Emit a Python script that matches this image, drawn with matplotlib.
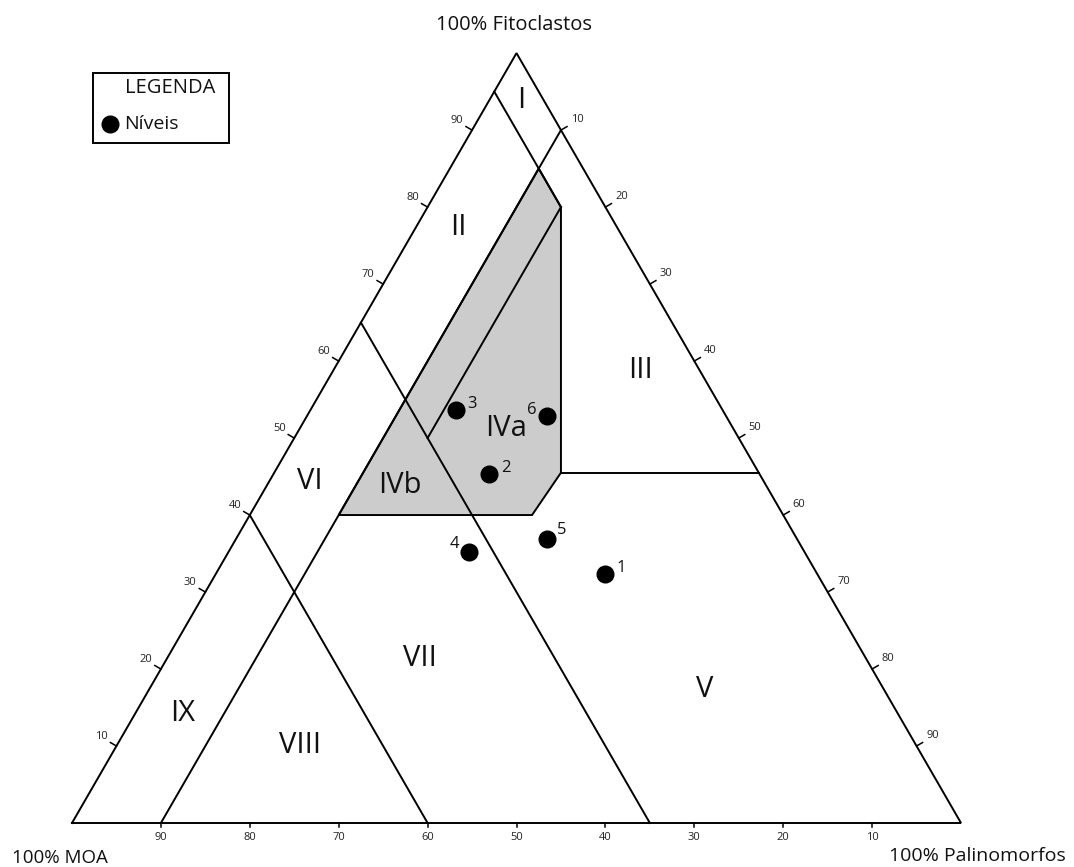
import matplotlib
matplotlib.use("Agg")
import matplotlib.pyplot as plt
from matplotlib.patches import Polygon, Rectangle

plt.rcParams['font.family'] = ['Open Sans', 'DejaVu Sans']

# ---------------- data (ternary %, Fitoclastos / Palinomorfos; MOA = 100 - F - P)
point_ids = ["1", "2", "3", "4", "5", "6"]
point_fito = [32.4, 45.3, 53.6, 35.2, 36.9, 52.9]
point_palino = [43.7, 24.3, 16.4, 27.1, 35.0, 27.0]

# field boundary segments: (fito, palino) start -> end
boundaries = [
    ((95, 0), (80, 15)),      # MOA = 5 line
    ((90, 10), (0, 10)),      # Palinomorfos = 10 line
    ((80, 15), (50, 15)),     # Palinomorfos = 15 (IVa/IVb)
    ((65, 0), (0, 65)),       # MOA = 35 line
    ((40, 0), (0, 40)),       # MOA = 60 line
    ((45.5, 32.25), (45.5, 54.5)),  # horizontal to right edge
]
# shaded field IV polygon (fito, palino)
field_iv = [(85, 10), (80, 15), (45.5, 32.25), (40, 31.75), (40, 10)]

field_names = ["I", "II", "III", "IVa", "IVb", "V", "VI", "VII", "VIII", "IX"]
field_fito = [93.9, 77.4, 58.8, 51.3, 43.8, 17.3, 44.4, 21.4, 10.1, 14.2]
field_palino = [3.55, 4.8, 34.6, 23.2, 15.0, 62.5, 4.5, 28.4, 20.6, 5.4]

tick_values = [10, 20, 30, 40, 50, 60, 70, 80, 90]

# ---------------- geometry
XL, XR, YB = 72.0, 961.0, 823.0
W = XR - XL
H = W * 0.8660254


def tern(f, p):
    x = XL + (p + f / 2.0) / 100.0 * W
    y = YB - f / 100.0 * H
    return x, y


fig = plt.figure(figsize=(10.74, 8.67), dpi=100)
ax = fig.add_axes([0, 0, 1, 1])
ax.set_xlim(0, 1074)
ax.set_ylim(867, 0)
ax.axis('off')

LW = 1.4

# shaded field
poly = Polygon([tern(f, p) for f, p in field_iv], closed=True,
               facecolor='#cccccc', edgecolor='black', lw=LW, zorder=1)
ax.add_patch(poly)

# outer triangle
tri = [tern(0, 0), tern(100, 0), tern(0, 100), tern(0, 0)]
ax.plot([t[0] for t in tri], [t[1] for t in tri], color='black', lw=LW,
        zorder=2, solid_joinstyle='miter')

for (f1, p1), (f2, p2) in boundaries:
    x1, y1 = tern(f1, p1)
    x2, y2 = tern(f2, p2)
    ax.plot([x1, x2], [y1, y2], color='black', lw=LW, zorder=2)

# ticks
tick_col = '#222222'
TL = 7
TFS = 8
for v in tick_values:
    # left edge (Fitoclastos)
    x, y = tern(v, 0)
    ax.plot([x, x - 0.866 * TL], [y, y - 0.5 * TL], color='black', lw=1.1)
    ax.text(x - 15, y - 10, str(v), fontsize=TFS, color=tick_col,
            ha='center', va='center')
    # right edge (Palinomorfos)
    x, y = tern(100 - v, v)
    ax.plot([x, x + 0.866 * TL], [y, y - 0.5 * TL], color='black', lw=1.1)
    ax.text(x + 16, y - 11, str(v), fontsize=TFS, color=tick_col,
            ha='center', va='center')
    # bottom edge (MOA)
    x, y = tern(0, 100 - v)
    ax.plot([x, x], [y, y + 4], color='black', lw=1.1)
    ax.text(x, y + 15, str(v), fontsize=TFS, color=tick_col,
            ha='center', va='center')

# field labels
for name, f, p in zip(field_names, field_fito, field_palino):
    x, y = tern(f, p)
    ax.text(x, y, name, fontsize=21, color='#111111', ha='center',
            va='center', zorder=4)

# points
px = [tern(f, p)[0] for f, p in zip(point_fito, point_palino)]
py = [tern(f, p)[1] for f, p in zip(point_fito, point_palino)]
ax.plot(px, py, 'o', color='black', markersize=12, zorder=5, linestyle='none')
label_off = {"1": (17, -6), "2": (16, -6), "3": (16, -6),
             "4": (-15, -8), "5": (15, -9), "6": (-15, -6)}
for pid, x, y in zip(point_ids, px, py):
    dx, dy = label_off[pid]
    ax.text(x + dx, y + dy, pid, fontsize=12, color='#111111',
            ha='center', va='center', zorder=6)

# vertex labels
ax.text(514, 25, "100% Fitoclastos", fontsize=14.5, color='#111111',
        ha='center', va='center')
ax.text(12, 858, "100% MOA", fontsize=13.5, color='#111111',
        ha='left', va='center')
ax.text(1066, 856, "100% Palinomorfos", fontsize=14, color='#111111',
        ha='right', va='center')

# legend box
ax.add_patch(Rectangle((93, 73), 136, 70, facecolor='white',
                       edgecolor='black', lw=1.4, zorder=6))
ax.text(170, 88, "LEGENDA", fontsize=14.5, color='#111111', ha='center',
        va='center', zorder=7)
ax.plot([110], [124], 'o', color='black', markersize=12, zorder=7)
ax.text(124, 124, "Níveis", fontsize=14, color='#111111', ha='left',
        va='center', zorder=7)

fig.savefig("out.png", dpi=100)
